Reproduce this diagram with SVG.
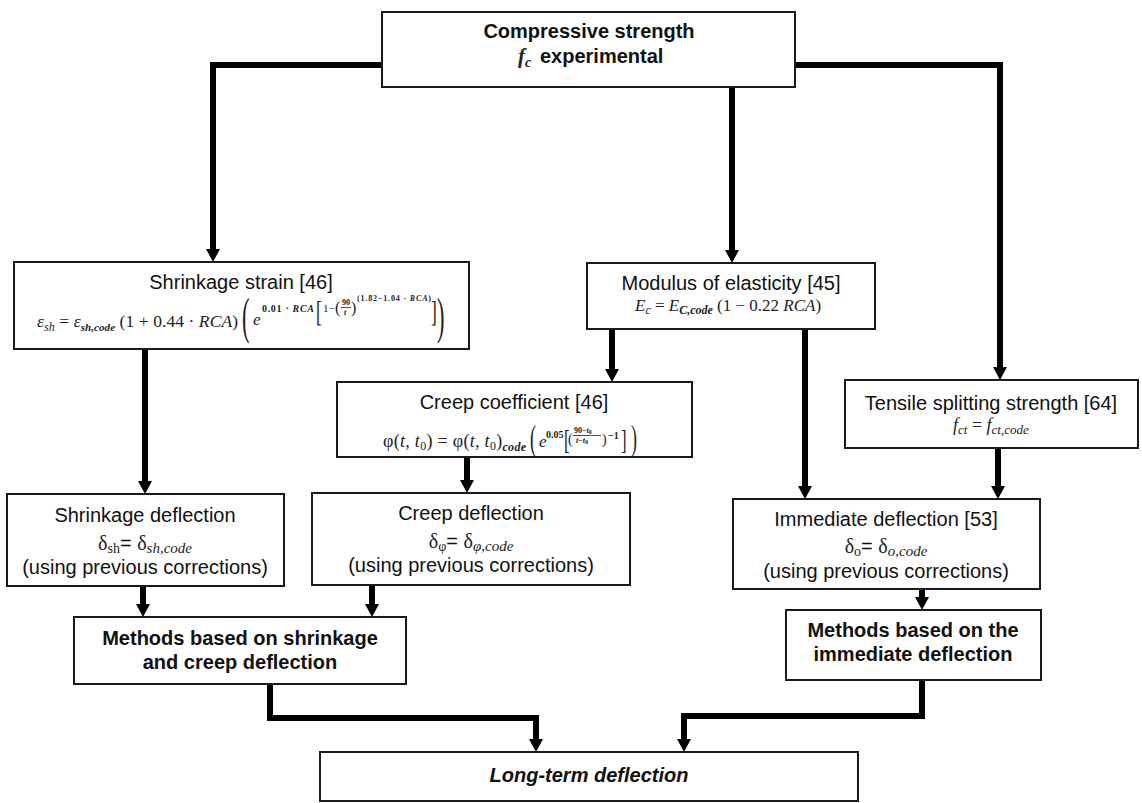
<svg xmlns="http://www.w3.org/2000/svg" width="1142" height="803" viewBox="0 0 1142 803">
<style>
.box{fill:#fff;stroke:#1a1a1a;stroke-width:2}
.t{font-family:"Liberation Sans",Arial,sans-serif;font-size:20px;fill:#111;text-anchor:middle}
.b{font-weight:bold}
.m{font-family:"Liberation Serif","Times New Roman",serif;fill:#222}
.i{font-style:italic}
.con{fill:none;stroke:#000;stroke-width:6;marker-end:url(#ah)}
</style>
<defs>
<marker id="ah" markerUnits="userSpaceOnUse" markerWidth="14" markerHeight="14" viewBox="0 -7 13 14" refX="0" refY="0" orient="auto">
<path d="M0,-7 L13,0 L0,7 z" fill="#000"/>
</marker>
</defs>

<g id="connectors">
<path class="con" d="M382,65 H213 V249"/>
<path class="con" d="M732,87 V250"/>
<path class="con" d="M795,65 H1000 V367"/>
<path class="con" d="M145,349 V481"/>
<path class="con" d="M612,329 V369"/>
<path class="con" d="M805,329 V486"/>
<path class="con" d="M998,448 V486"/>
<path class="con" d="M467,457 V480"/>
<path class="con" d="M143,586 V604"/>
<path class="con" d="M372,585 V604"/>
<path class="con" d="M922,589 V597"/>
<path class="con" d="M270,684 V718 H536 V739"/>
<path class="con" d="M922,680 V716 H684 V739"/>
</g>

<g id="compressive">
<rect class="box" x="382" y="12" width="413" height="75"/>
<text class="t b" x="589" y="38">Compressive strength</text>
<text class="m i b" x="518" y="63" font-size="21">f<tspan font-size="14" dy="4">c</tspan></text>
<text class="t b" x="540" y="63" style="text-anchor:start">experimental</text>
</g>

<g id="shrinkage-strain">
<rect class="box" x="14" y="262" width="455" height="87"/>
<text class="t" x="241" y="289">Shrinkage strain [46]</text>
<text class="m" x="37" y="327" font-size="17.5" textLength="201" lengthAdjust="spacing"><tspan class="i">ε</tspan><tspan class="i" font-size="12" dy="4">sh</tspan><tspan dy="-4"> = </tspan><tspan class="i">ε</tspan><tspan class="i b" font-size="11" dy="4">sh,code</tspan><tspan dy="-4"> (1 + 0.44 · </tspan><tspan class="i">RCA</tspan>)</text>
<text class="m" font-size="50" transform="translate(242,333) scale(0.45,1)">(</text>
<text class="m i" x="253" y="325" font-size="17">e</text>
<text class="m b" x="262" y="312" font-size="10" textLength="52" lengthAdjust="spacing">0.01 · <tspan class="i">RCA</tspan></text>
<text class="m" font-size="29" transform="translate(316,321) scale(0.6,1)">[</text>
<text class="m" x="323" y="312" font-size="11">1−</text>
<text class="m" x="335" y="313" font-size="16">(</text>
<text class="m b" x="342" y="305" font-size="8">90</text>
<line x1="341" y1="307.5" x2="351" y2="307.5" stroke="#222" stroke-width="0.8"/>
<text class="m i b" x="344" y="315" font-size="8">t</text>
<text class="m" x="351" y="313" font-size="16">)</text>
<text class="m b" x="357" y="301" font-size="8" textLength="74">(1.82−1.04 · <tspan class="i">RCA</tspan>)</text>
<text class="m" font-size="29" transform="translate(431,321) scale(0.6,1)">]</text>
<text class="m" font-size="50" transform="translate(437,333) scale(0.45,1)">)</text>
</g>

<g id="modulus">
<rect class="box" x="587" y="263" width="288" height="66"/>
<text class="t" x="731" y="290">Modulus of elasticity [45]</text>
<text class="m" x="635" y="311" font-size="17"><tspan class="i">E</tspan><tspan class="i" font-size="12" dy="3">c</tspan><tspan dy="-3"> = </tspan><tspan class="i">E</tspan><tspan class="i b" font-size="12" dy="3">C,code</tspan><tspan dy="-3"> (1 − 0.22 </tspan><tspan class="i">RCA</tspan>)</text>
</g>

<g id="creep-coefficient">
<rect class="box" x="337" y="382" width="355" height="75"/>
<text class="t" x="514" y="409">Creep coefficient [46]</text>
<text class="m" x="383" y="447" font-size="18" textLength="143" lengthAdjust="spacing">φ(<tspan class="i">t</tspan>, <tspan class="i">t</tspan><tspan font-size="12" dy="3">0</tspan><tspan dy="-3">) = φ(</tspan><tspan class="i">t</tspan>, <tspan class="i">t</tspan><tspan font-size="12" dy="3">0</tspan><tspan dy="-3">)</tspan><tspan class="i b" font-size="12" dy="4">code</tspan></text>
<text class="m" font-size="36" transform="translate(530,450) scale(0.5,1)">(</text>
<text class="m i" x="539" y="447" font-size="17">e</text>
<text class="m b" x="546" y="438" font-size="10">0.05</text>
<text class="m" font-size="28" transform="translate(564,449) scale(0.6,1)">[</text>
<text class="m" x="568" y="444" font-size="14">(</text>
<text class="m b" x="574" y="433" font-size="8">90−<tspan class="i">t</tspan><tspan font-size="6" dy="1">0</tspan></text>
<line x1="573" y1="435.5" x2="601" y2="435.5" stroke="#222" stroke-width="0.8"/>
<text class="m b" x="576" y="443" font-size="8"><tspan class="i">t</tspan>−<tspan class="i">t</tspan><tspan font-size="6" dy="1">0</tspan></text>
<text class="m" x="602" y="444" font-size="14">)</text>
<text class="m b" x="608" y="439" font-size="10">−1</text>
<text class="m" font-size="28" transform="translate(621,449) scale(0.6,1)">]</text>
<text class="m" font-size="36" transform="translate(631,450) scale(0.5,1)">)</text>
</g>

<g id="tensile">
<rect class="box" x="845" y="380" width="293" height="68"/>
<text class="t" x="991" y="410">Tensile splitting strength [64]</text>
<text class="m" x="953" y="431" font-size="18"><tspan class="i">f</tspan><tspan class="i" font-size="13" dy="3">ct</tspan><tspan dy="-3"> = </tspan><tspan class="i">f</tspan><tspan class="i" font-size="13" dy="3">ct,code</tspan></text>
</g>

<g id="shrinkage-deflection">
<rect class="box" x="7" y="494" width="277" height="92"/>
<text class="t" x="145" y="522">Shrinkage deflection</text>
<text class="t" x="145" y="550"><tspan class="m" font-size="20">δ</tspan><tspan class="m" font-size="14" dy="3">sh</tspan><tspan dy="-3">= </tspan><tspan class="m" font-size="20">δ</tspan><tspan class="m i" font-size="15" dy="3">sh,code</tspan></text>
<text class="t" x="145" y="574">(using previous corrections)</text>
</g>

<g id="creep-deflection">
<rect class="box" x="312" y="493" width="318" height="92"/>
<text class="t" x="471" y="520">Creep deflection</text>
<text class="t" x="471" y="548"><tspan class="m" font-size="20">δ</tspan><tspan class="m" font-size="14" dy="3">φ</tspan><tspan dy="-3">= </tspan><tspan class="m" font-size="20">δ</tspan><tspan class="m i" font-size="15" dy="3">φ,code</tspan></text>
<text class="t" x="471" y="572">(using previous corrections)</text>
</g>

<g id="immediate-deflection">
<rect class="box" x="733" y="499" width="307" height="90"/>
<text class="t" x="886" y="526">Immediate deflection [53]</text>
<text class="t" x="886" y="553"><tspan class="m" font-size="20">δ</tspan><tspan class="m" font-size="14" dy="3">o</tspan><tspan dy="-3">= </tspan><tspan class="m" font-size="20">δ</tspan><tspan class="m i" font-size="15" dy="3">o,code</tspan></text>
<text class="t" x="886" y="578">(using previous corrections)</text>
</g>

<g id="methods-shrinkage-creep">
<rect class="box" x="74" y="617" width="332" height="67"/>
<text class="t b" x="240" y="645">Methods based on shrinkage</text>
<text class="t b" x="240" y="669">and creep deflection</text>
</g>

<g id="methods-immediate">
<rect class="box" x="786" y="610" width="255" height="70"/>
<text class="t b" x="913" y="637">Methods based on the</text>
<text class="t b" x="913" y="661">immediate deflection</text>
</g>

<g id="long-term">
<rect class="box" x="320" y="752" width="538" height="49"/>
<text class="t b i" x="589" y="782">Long-term deflection</text>
</g>
</svg>
